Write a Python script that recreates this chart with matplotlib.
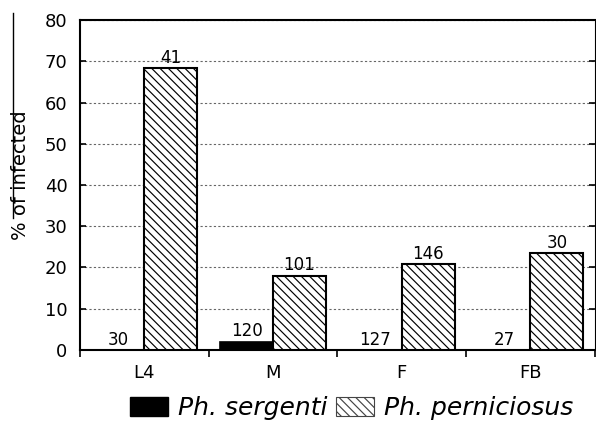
import matplotlib.pyplot as plt
import numpy as np
from matplotlib.patches import Patch
from matplotlib.lines import Line2D

plt.rcParams['font.family'] = ['DejaVu Sans']
plt.rcParams['hatch.linewidth'] = 0.85

stages = ["L4", "M", "F", "FB"]
sergenti = [0, 2.0, 0, 0]
perniciosus = [68.3, 18.0, 20.8, 23.4]
n_sergenti = [30, 120, 127, 27]
n_perniciosus = [41, 101, 146, 30]

fig = plt.figure(figsize=(5.96, 4.23), dpi=100)
ax = fig.add_axes([0.1342, 0.1726, 0.8638, 0.7801])

x = np.arange(len(stages))
w = 0.41

b1 = ax.bar(x - w / 2, sergenti, w, color='black', edgecolor='black', linewidth=1.2, zorder=3)
b2 = ax.bar(x + w / 2, perniciosus, w, color='white', edgecolor='black', linewidth=1.5,
            hatch='\\\\\\\\', zorder=3)

ax.bar_label(b1, labels=[str(n) for n in n_sergenti], padding=1, fontsize=12)
ax.bar_label(b2, labels=[str(n) for n in n_perniciosus], padding=1, fontsize=12)

ax.set_xlim(-0.5, len(stages) - 0.5)
ax.set_ylim(0, 80)
ax.set_yticks(range(0, 81, 10))
ax.tick_params(axis='y', direction='in', length=4, width=1.2, labelsize=13, pad=9, right=True)
ax.set_xticks(x)
ax.set_xticklabels(stages, fontsize=13)
ax.tick_params(axis='x', length=0, pad=10)
# category separators on the bottom axis
ax.set_xticks(np.arange(-0.5, len(stages), 1), minor=True)
ax.tick_params(axis='x', which='minor', direction='out', length=5, width=1.2)

ax.grid(axis='y', linestyle=(0, (2, 2)), color='#666666', linewidth=0.8, zorder=0)
ax.spines['left'].set_linewidth(1.5)
ax.spines['bottom'].set_linewidth(1.5)
ax.spines['top'].set_linewidth(1.5)
ax.spines['right'].set_linewidth(0.8)

fig.text(0.034, 0.586, "% of infected", rotation=90, ha='center', va='center', fontsize=14)
fig.add_artist(Line2D([0.021, 0.021], [0.97, 0.485], color='black', linewidth=1.0))

handles = [Patch(facecolor='black', edgecolor='black'),
           Patch(facecolor='white', edgecolor='#444444', hatch='\\\\\\\\', linewidth=0.8)]
fig.legend(handles, ["Ph. sergenti", "Ph. perniciosus"], loc='center', ncol=2,
           bbox_to_anchor=(0.590, 0.036), frameon=False, handlelength=1.5, handleheight=0.8,
           handletextpad=0.4, columnspacing=0.35, borderpad=0,
           prop={'style': 'italic', 'size': 18})

fig.savefig("out.png", dpi=100)
